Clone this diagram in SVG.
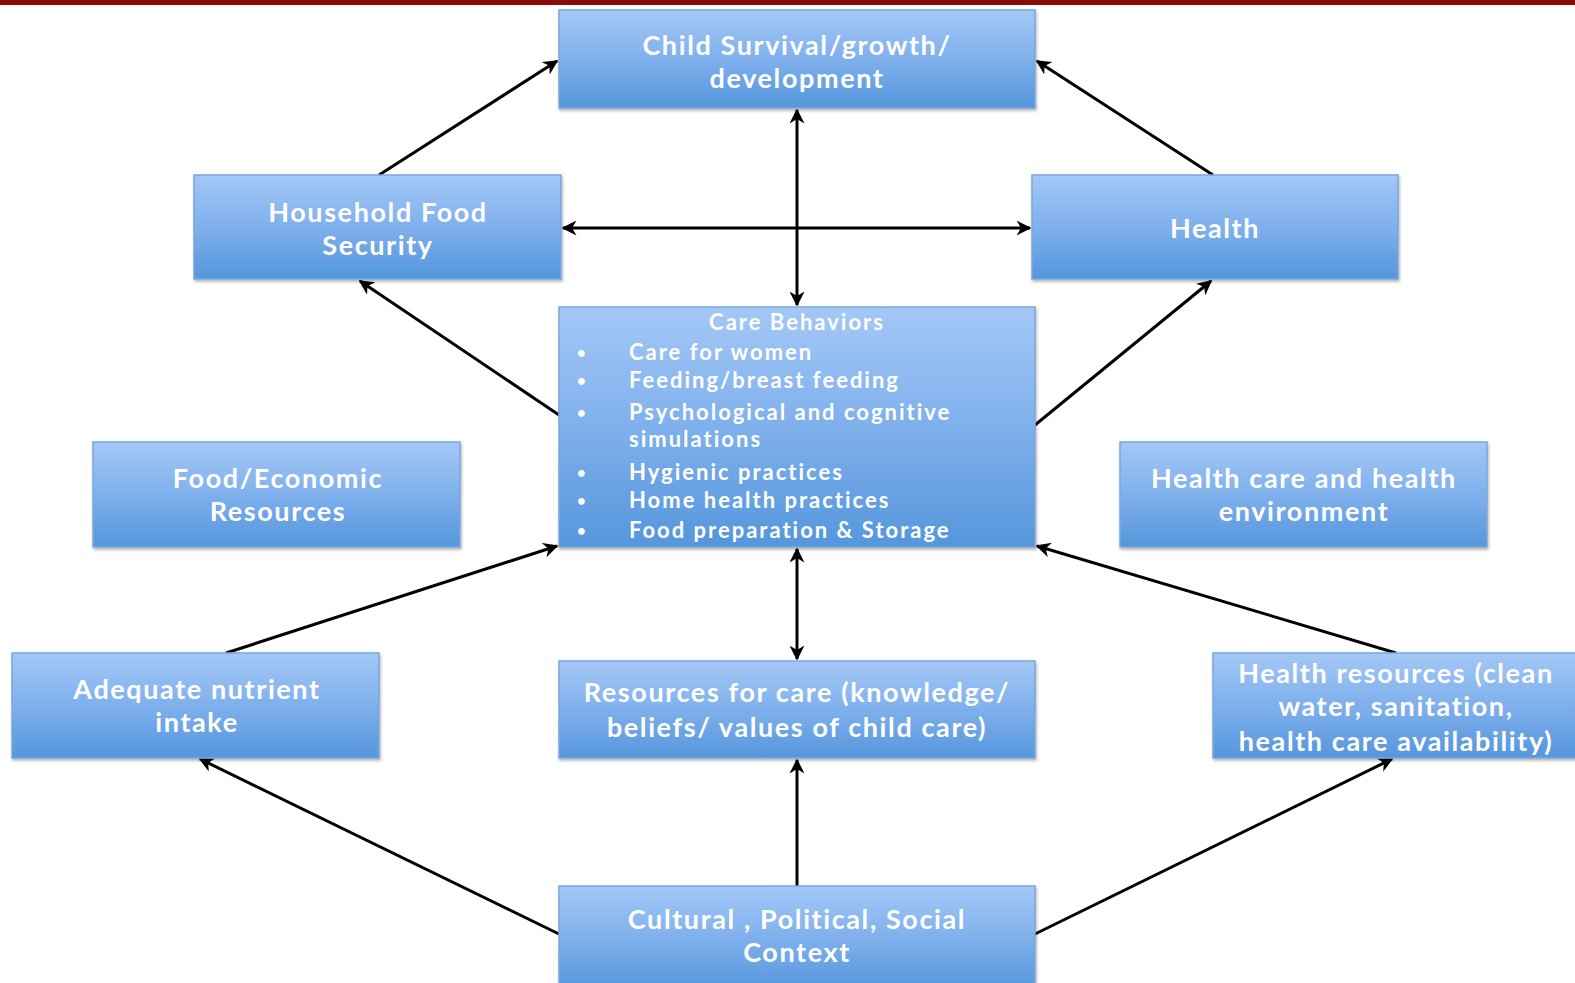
<svg xmlns="http://www.w3.org/2000/svg" width="1575" height="983" viewBox="0 0 1575 983">
<defs>
<linearGradient id="g" x1="0" y1="0" x2="0" y2="1">
<stop offset="0" stop-color="#a4c8f6"/>
<stop offset="0.5" stop-color="#7fb0ec"/>
<stop offset="1" stop-color="#5596dc"/>
</linearGradient>
<marker id="ah" viewBox="0 0 10 10" refX="9" refY="5" markerWidth="5" markerHeight="5" orient="auto-start-reverse" markerUnits="strokeWidth">
<path d="M0,0 L10,5 L0,10 L3,5 Z" fill="#000"/>
</marker>
<filter id="sh" x="-5%" y="-5%" width="110%" height="115%">
<feDropShadow dx="1" dy="2" stdDeviation="1.5" flood-color="#000" flood-opacity="0.3"/>
</filter>
</defs>
<style>
.box{fill:url(#g);stroke:#7aa6dc;stroke-width:1.5;filter:url(#sh)}
.t{font-family:Lato,"Open Sans",sans-serif;font-size:27px;letter-spacing:1.6px;fill:#fff;text-anchor:middle;font-weight:700}
.s{font-family:Lato,"Open Sans",sans-serif;font-size:22px;letter-spacing:2px;fill:#fff;font-weight:700}
.b{font-family:Lato,"Open Sans",sans-serif;font-size:15px;fill:#fff;font-weight:700}
.c{stroke:#000;stroke-width:3;fill:none}
</style>
<rect x="0" y="0" width="1575" height="5" fill="#8b0a0a"/>
<g id="connectors">
<line class="c" x1="379" y1="175" x2="557" y2="61" marker-end="url(#ah)"/>
<line class="c" x1="1213" y1="175" x2="1037" y2="61" marker-end="url(#ah)"/>
<line class="c" x1="797" y1="110" x2="797" y2="305" marker-start="url(#ah)" marker-end="url(#ah)"/>
<line class="c" x1="563" y1="228" x2="1030" y2="228" marker-start="url(#ah)" marker-end="url(#ah)"/>
<line class="c" x1="559" y1="415" x2="360" y2="281" marker-end="url(#ah)"/>
<line class="c" x1="1035" y1="425" x2="1211" y2="281" marker-end="url(#ah)"/>
<line class="c" x1="226" y1="653" x2="557" y2="546" marker-end="url(#ah)"/>
<line class="c" x1="1396" y1="653" x2="1037" y2="546" marker-end="url(#ah)"/>
<line class="c" x1="797" y1="549" x2="797" y2="659" marker-start="url(#ah)" marker-end="url(#ah)"/>
<line class="c" x1="797" y1="886" x2="797" y2="760" marker-end="url(#ah)"/>
<line class="c" x1="559" y1="934" x2="200" y2="759" marker-end="url(#ah)"/>
<line class="c" x1="1035" y1="934" x2="1392" y2="759" marker-end="url(#ah)"/>
</g>
<g id="child">
<rect class="box" x="559" y="10" width="476" height="98"/>
<text class="t" x="797" y="55">Child Survival/growth/</text>
<text class="t" x="797" y="88">development</text>
</g>
<g id="household">
<rect class="box" x="194" y="175" width="367" height="104"/>
<text class="t" x="378" y="222">Household Food</text>
<text class="t" x="378" y="255">Security</text>
</g>
<g id="health">
<rect class="box" x="1032" y="175" width="366" height="104"/>
<text class="t" x="1215" y="238">Health</text>
</g>
<g id="care">
<rect class="box" x="559" y="307" width="476" height="240"/>
<text class="s" x="797" y="330" text-anchor="middle">Care Behaviors</text>
<text class="b" x="577" y="358">•</text><text class="s" x="629" y="360">Care for women</text>
<text class="b" x="577" y="386">•</text><text class="s" x="629" y="388">Feeding/breast feeding</text>
<text class="b" x="577" y="418">•</text><text class="s" x="629" y="420">Psychological and cognitive</text>
<text class="s" x="629" y="447">simulations</text>
<text class="b" x="577" y="478">•</text><text class="s" x="629" y="480">Hygienic practices</text>
<text class="b" x="577" y="506">•</text><text class="s" x="629" y="508">Home health practices</text>
<text class="b" x="577" y="536">•</text><text class="s" x="629" y="538">Food preparation &amp; Storage</text>
</g>
<g id="foodecon">
<rect class="box" x="93" y="442" width="367" height="105"/>
<text class="t" x="278" y="488">Food/Economic</text>
<text class="t" x="278" y="521">Resources</text>
</g>
<g id="healthcare">
<rect class="box" x="1120" y="442" width="367" height="105"/>
<text class="t" x="1304" y="488">Health care and health</text>
<text class="t" x="1304" y="521">environment</text>
</g>
<g id="nutrient">
<rect class="box" x="12" y="653" width="367" height="105"/>
<text class="t" x="197" y="699">Adequate nutrient</text>
<text class="t" x="197" y="732">intake</text>
</g>
<g id="resources">
<rect class="box" x="559" y="661" width="476" height="97"/>
<text class="t" x="797" y="702">Resources for care (knowledge/</text>
<text class="t" x="797" y="737">beliefs/ values of child care)</text>
</g>
<g id="healthres">
<rect class="box" x="1213" y="653" width="370" height="105"/>
<text class="t" x="1396" y="683">Health resources (clean</text>
<text class="t" x="1396" y="716">water, sanitation,</text>
<text class="t" x="1396" y="751">health care availability)</text>
</g>
<g id="cultural">
<rect class="box" x="559" y="886" width="476" height="105"/>
<text class="t" x="797" y="929">Cultural , Political, Social</text>
<text class="t" x="797" y="962">Context</text>
</g>
</svg>
